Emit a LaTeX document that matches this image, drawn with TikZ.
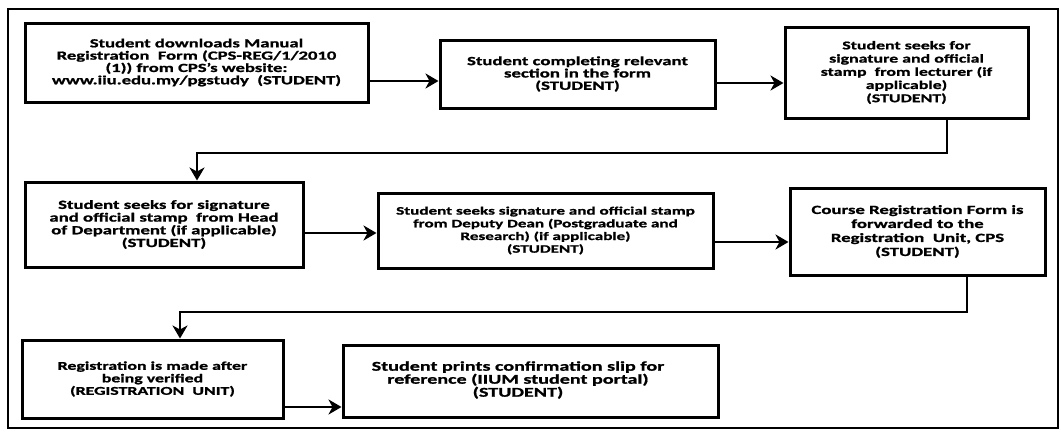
\documentclass[tikz,border=0pt]{standalone}
\usepackage{fontspec}
\setmainfont{Carlito}[FakeStretch=1.5, BoldFeatures={FakeBold=1.2}]
\usetikzlibrary{arrows.meta,calc}
\tikzset{
  stepbox/.style={draw, line width=3pt, align=center, inner sep=2pt},
  fs/.style 2 args={font=\bfseries\fontsize{#1}{#2}\selectfont},
  boxtext/.style={align=center, inner sep=0pt},
  arr/.style={line width=2.8pt, -{Stealth[length=13pt,width=15pt,inset=4pt]}},
  frame/.style={line width=1.3pt}
}
\begin{document}
\begin{tikzpicture}[x=1pt,y=-1pt]
\useasboundingbox (0,0) rectangle (1061,432);
\draw[frame] (8,9) rectangle (1058,428);

\node[stepbox, fs={12.4}{12.3}, minimum width=343pt, minimum height=79pt] (B1) at (196.5,62.5)
  {Student downloads Manual\\Registration\ \ Form (CPS-REG/1/2010\\(1)) from CPS’s website:\\www.iiu.edu.my/pgstudy\ \ (STUDENT)};
\node[stepbox, fs={12.5}{12.3}, minimum width=275pt, minimum height=68pt] (B2) at (577.5,74)
  {Student completing relevant\\section in the form\\(STUDENT)};
\node[stepbox, fs={11.9}{13.2}, minimum width=243pt, minimum height=91pt] (B3) at (906.5,72.5)
  {Student seeks for\\signature and official\\stamp\ \ from lecturer (if\\applicable)\\(STUDENT)};
\node[stepbox, fs={12.5}{12.7}, minimum width=278pt, minimum height=85pt] (B4) at (164,224.5)
  {Student seeks for signature\\and official stamp\ \ from Head\\of Department (if applicable)\\(STUDENT)};
\node[stepbox, fs={11.4}{12.7}, minimum width=335pt, minimum height=75pt] (B5) at (545.5,230.5)
  {Student seeks signature and official stamp\\from Deputy Dean (Postgraduate and\\Research) (if applicable)\\(STUDENT)};
\node[stepbox, fs={12.5}{14}, minimum width=255pt, minimum height=87pt] (B6) at (917.5,231.5)
  {Course Registration Form is\\forwarded to the\\Registration\ \ Unit, CPS\\(STUDENT)};
\node[stepbox, fs={11.9}{12.5}, minimum width=261pt, minimum height=78pt] (B7) at (152.5,379)
  {Registration is made after\\being verified\\(REGISTRATION\ \ UNIT)};
\node[stepbox, minimum width=375pt, minimum height=72pt] (B8) at (530.5,381) {};
\node[boxtext, fs={13.4}{13}] (T8) at (518,380)
  {Student prints confirmation slip for\\reference (IIUM student portal)\\(STUDENT)};

\coordinate (y12) at (0,81);
\coordinate (y23) at (0,83);
\coordinate (y45) at (0,233);
\coordinate (y56) at (0,242);
\coordinate (y78) at (0,407);
\coordinate (c34a) at (947,153);
\coordinate (c34b) at (197,153);
\coordinate (c67a) at (967,312);
\coordinate (c67b) at (180,312);

\draw[arr] (B1.east |- y12) -- (B2.west |- y12);
\draw[arr] (B2.east |- y23) -- (B3.west |- y23);
\draw[arr] (B3.south -| c34a) -- (c34a) -- (c34b) -- (B4.north -| c34b);
\draw[arr] (B4.east |- y45) -- (B5.west |- y45);
\draw[arr] (B5.east |- y56) -- (B6.west |- y56);
\draw[arr] (B6.south -| c67a) -- (c67a) -- (c67b) -- (B7.north -| c67b);
\draw[arr] (B7.east |- y78) -- (B8.west |- y78);
\end{tikzpicture}
\end{document}
